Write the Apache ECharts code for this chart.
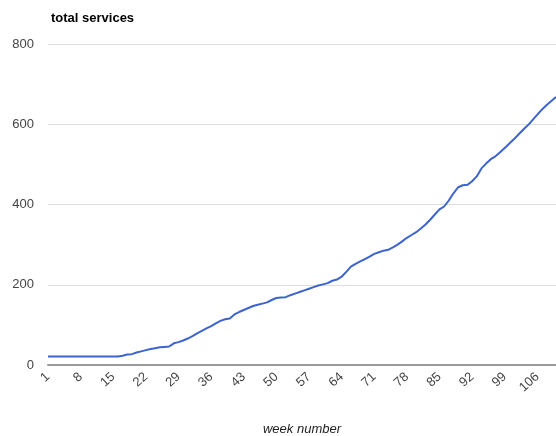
<!DOCTYPE html>
<html>
<head>
<meta charset="utf-8">
<script src="https://cdn.jsdelivr.net/npm/echarts@6/dist/echarts.min.js"></script>
<style>
  html, body { margin: 0; padding: 0; background: #fff; }
  #chart { width: 556px; height: 436px; }
</style>
</head>
<body>
<div id="chart"></div>
<script>
// weeks 1..110
var weeks = [];
for (var i = 1; i <= 110; i++) weeks.push(String(i));

// total services per week
var services = [
    21, 21, 21, 21, 21, 21, 21, 21, 21, 21,
    21, 21, 21, 21, 21, 21, 23, 26, 27, 31,
    34, 37, 40, 42, 44, 45, 46, 54, 57, 61,
    66, 72, 79, 85, 91, 97, 104, 110, 114, 116,
    126, 132, 137, 142, 147, 150, 153, 156, 162, 167,
    168, 169, 174, 178, 182, 186, 190, 194, 198, 201,
    204, 210, 213, 220, 232, 245, 252, 258, 264, 270,
    277, 281, 285, 287, 293, 300, 308, 317, 324, 331,
    340, 350, 362, 375, 388, 395, 410, 428, 443, 448,
    449, 458, 470, 490, 502, 513, 520, 530, 541, 552,
    563, 575, 587, 598, 611, 624, 637, 648, 658, 668
];

var yTicks = [0, 200, 400, 600, 800];

var myChart = echarts.init(document.getElementById('chart'));

var option = {
    animation: false,
    textStyle: { fontFamily: 'Liberation Sans, Arial, sans-serif' },
    title: {
        text: 'total services',
        left: 46,
        top: 7,
        textStyle: { fontSize: 13, fontWeight: 'bold', color: '#000' }
    },
    grid: {
        left: 48,
        right: 0,
        top: 44,
        bottom: 71,
        containLabel: false,
        outerBoundsMode: 'none'
    },
    xAxis: {
        type: 'category',
        boundaryGap: false,
        data: weeks,
        name: 'week number',
        nameLocation: 'middle',
        nameGap: 58,
        nameTextStyle: { fontSize: 13, fontStyle: 'italic', color: '#222' },
        axisLine: { lineStyle: { color: '#999', width: 2 } },
        axisTick: { show: false },
        axisLabel: {
            interval: 6,
            rotate: 42,
            margin: 10,
            fontSize: 13,
            color: '#444'
        }
    },
    yAxis: {
        type: 'value',
        min: yTicks[0],
        max: yTicks[yTicks.length - 1],
        interval: 200,
        axisLine: { show: false },
        axisTick: { show: false },
        axisLabel: { fontSize: 13, color: '#444', margin: 14 },
        splitLine: { lineStyle: { color: '#ddd', width: 1 } }
    },
    series: [{
        name: 'total services',
        type: 'line',
        data: services,
        showSymbol: false,
        lineStyle: { color: '#3c64cc', width: 2 },
        itemStyle: { color: '#3c64cc' }
    }]
};

myChart.setOption(option);
</script>
</body>
</html>
